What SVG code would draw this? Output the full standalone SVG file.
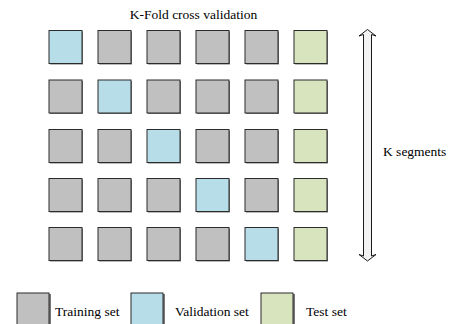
<svg xmlns="http://www.w3.org/2000/svg" width="450" height="324" viewBox="0 0 450 324">
<defs>
<style>
text{font-family:"Liberation Serif","Times New Roman",serif;font-size:13.5px;fill:#000}
.sh{fill:#777}
.sq{stroke:#2b2b2b;stroke-width:1}
.tr{fill:#c0c0c0}
.va{fill:#b7dde8}
.te{fill:#d7e4bd}
</style>
<g id="sqr"><rect class="sh" x="1" y="1" width="33" height="33"/></g>
</defs>
<rect width="450" height="324" fill="#fff"/>
<text x="193.5" y="18.7" text-anchor="middle">K-Fold cross validation</text>
<g id="grid">
<g id="row1">
<use href="#sqr" x="49" y="30.5"/><rect class="sq va" x="49" y="30.5" width="33" height="33"/>
<use href="#sqr" x="98" y="30.5"/><rect class="sq tr" x="98" y="30.5" width="33" height="33"/>
<use href="#sqr" x="147" y="30.5"/><rect class="sq tr" x="147" y="30.5" width="33" height="33"/>
<use href="#sqr" x="196" y="30.5"/><rect class="sq tr" x="196" y="30.5" width="33" height="33"/>
<use href="#sqr" x="245" y="30.5"/><rect class="sq tr" x="245" y="30.5" width="33" height="33"/>
<use href="#sqr" x="294" y="30.5"/><rect class="sq te" x="294" y="30.5" width="33" height="33"/>
</g>
<g id="row2">
<use href="#sqr" x="49" y="80"/><rect class="sq tr" x="49" y="80" width="33" height="33"/>
<use href="#sqr" x="98" y="80"/><rect class="sq va" x="98" y="80" width="33" height="33"/>
<use href="#sqr" x="147" y="80"/><rect class="sq tr" x="147" y="80" width="33" height="33"/>
<use href="#sqr" x="196" y="80"/><rect class="sq tr" x="196" y="80" width="33" height="33"/>
<use href="#sqr" x="245" y="80"/><rect class="sq tr" x="245" y="80" width="33" height="33"/>
<use href="#sqr" x="294" y="80"/><rect class="sq te" x="294" y="80" width="33" height="33"/>
</g>
<g id="row3">
<use href="#sqr" x="49" y="129.5"/><rect class="sq tr" x="49" y="129.5" width="33" height="33"/>
<use href="#sqr" x="98" y="129.5"/><rect class="sq tr" x="98" y="129.5" width="33" height="33"/>
<use href="#sqr" x="147" y="129.5"/><rect class="sq va" x="147" y="129.5" width="33" height="33"/>
<use href="#sqr" x="196" y="129.5"/><rect class="sq tr" x="196" y="129.5" width="33" height="33"/>
<use href="#sqr" x="245" y="129.5"/><rect class="sq tr" x="245" y="129.5" width="33" height="33"/>
<use href="#sqr" x="294" y="129.5"/><rect class="sq te" x="294" y="129.5" width="33" height="33"/>
</g>
<g id="row4">
<use href="#sqr" x="49" y="178.5"/><rect class="sq tr" x="49" y="178.5" width="33" height="33"/>
<use href="#sqr" x="98" y="178.5"/><rect class="sq tr" x="98" y="178.5" width="33" height="33"/>
<use href="#sqr" x="147" y="178.5"/><rect class="sq tr" x="147" y="178.5" width="33" height="33"/>
<use href="#sqr" x="196" y="178.5"/><rect class="sq va" x="196" y="178.5" width="33" height="33"/>
<use href="#sqr" x="245" y="178.5"/><rect class="sq tr" x="245" y="178.5" width="33" height="33"/>
<use href="#sqr" x="294" y="178.5"/><rect class="sq te" x="294" y="178.5" width="33" height="33"/>
</g>
<g id="row5">
<use href="#sqr" x="49" y="227.5"/><rect class="sq tr" x="49" y="227.5" width="33" height="33"/>
<use href="#sqr" x="98" y="227.5"/><rect class="sq tr" x="98" y="227.5" width="33" height="33"/>
<use href="#sqr" x="147" y="227.5"/><rect class="sq tr" x="147" y="227.5" width="33" height="33"/>
<use href="#sqr" x="196" y="227.5"/><rect class="sq tr" x="196" y="227.5" width="33" height="33"/>
<use href="#sqr" x="245" y="227.5"/><rect class="sq va" x="245" y="227.5" width="33" height="33"/>
<use href="#sqr" x="294" y="227.5"/><rect class="sq te" x="294" y="227.5" width="33" height="33"/>
</g>
</g>
<g id="connectors">
<polygon points="367.5,29.5 376,36 371.5,34.5 371.5,256 376,254.5 367.5,261 359,254.5 363.5,256 363.5,34.5 359,36" fill="#f2f2f2" stroke="#1a1a1a" stroke-width="1" stroke-linejoin="miter"/>
</g>
<text x="383" y="156">K segments</text>
<g id="legend">
<g id="leg-train"><use href="#sqr" x="17" y="293"/><rect class="sq tr" x="17" y="293" width="32" height="33"/><text x="55" y="316">Training set</text></g>
<g id="leg-val"><use href="#sqr" x="131" y="293"/><rect class="sq va" x="131" y="293" width="32" height="33"/><text x="175" y="316">Validation set</text></g>
<g id="leg-test"><use href="#sqr" x="261" y="293"/><rect class="sq te" x="261" y="293" width="32" height="33"/><text x="306" y="316">Test set</text></g>
</g>
</svg>
